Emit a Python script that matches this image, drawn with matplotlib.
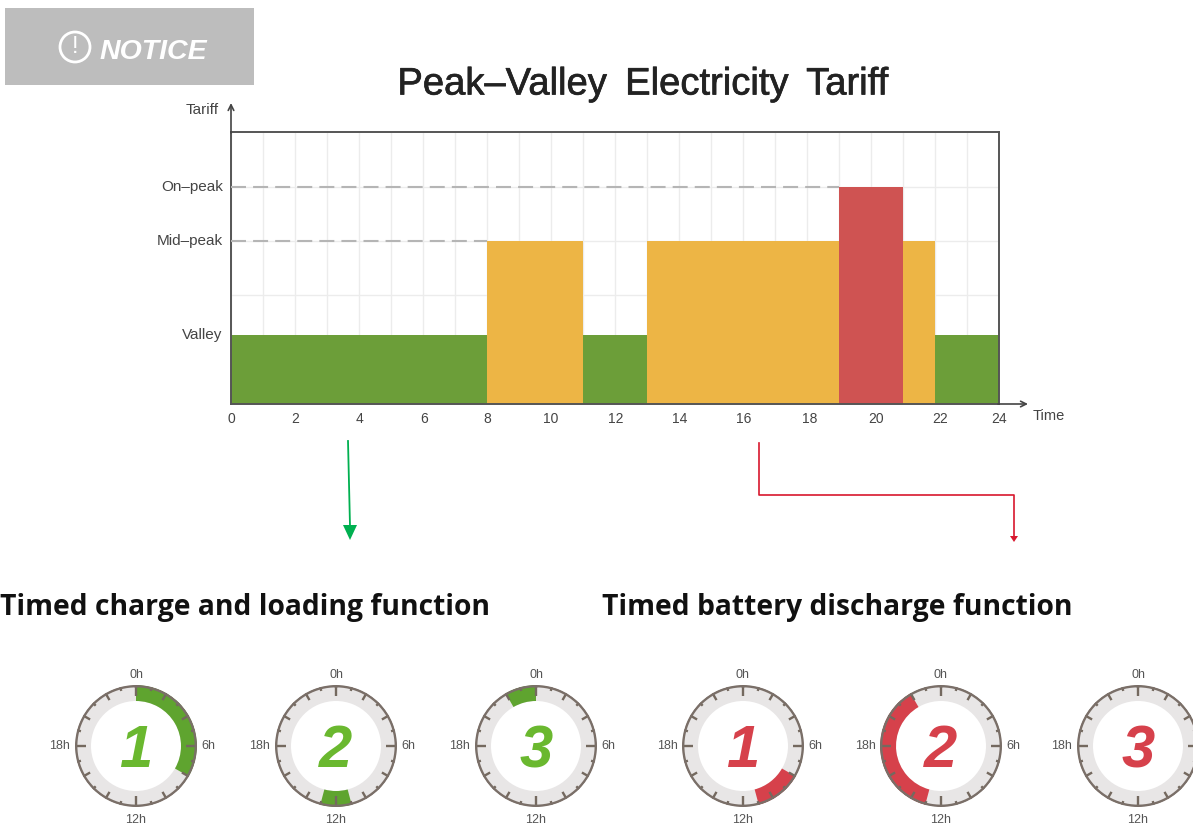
import numpy as np
import matplotlib.pyplot as plt
import matplotlib.patheffects as pe
from matplotlib.patches import Circle, Rectangle
from matplotlib.transforms import ScaledTranslation

W, H = 1193, 826

# tariff bands: start hour, end hour, level
band_start = [0, 8, 11, 13, 19, 21, 22]
band_end = [8, 11, 13, 19, 21, 22, 24]
band_level = ["Valley", "Mid-peak", "Valley", "Mid-peak", "On-peak", "Mid-peak", "Valley"]
level_names = ["Valley", "Mid-peak", "On-peak"]
level_values = [69, 163, 217]
level_labels = ["Valley", "Mid–peak", "On–peak"]
level_colors = {"Valley": "#6c9e39", "Mid-peak": "#edb545", "On-peak": "#cf5352"}
x_ticks = list(range(0, 25, 2))
x_label_nudge = [0, 0, 0, 1, 0, 0, 1, 1, 1, 3, 5, 5, 0]  # labels drift right in the original

# clock windows in hours
charge_windows = [[(0, 8)], [(11, 13)], [(22, 24)]]
discharge_windows = [[(8, 11)], [(13, 22)], []]
charge_x = [136, 336, 536]
discharge_x = [743, 941, 1138]
clock_y = 746
clock_r = 61

fig = plt.figure(figsize=(W / 100, H / 100), dpi=100)
plt.rcParams['font.family'] = ['Liberation Sans', 'DejaVu Sans']

# main tariff chart
ax = fig.add_axes([231 / W, 1 - 404 / H, (999 - 231) / W, (404 - 132) / H])
ax.set_xlim(0, 24)
ax.set_ylim(0, 272)
ax.set_xticks(range(0, 25), minor=True)
ax.set_xticks(x_ticks)
ax.set_xticklabels(x_ticks, fontsize=10, color="#444444")
ax.set_yticks(level_values)
ax.set_yticklabels(level_labels, fontsize=11, color="#444444")
ax.tick_params(axis="both", which="both", length=0)
ax.tick_params(axis="x", pad=5.5)
ax.tick_params(axis="y", pad=6)
for lab, dx in zip(ax.get_xticklabels(), x_label_nudge):
    lab.set_transform(lab.get_transform() + ScaledTranslation(dx / 100, 0, fig.dpi_scale_trans))
for lab in ax.get_yticklabels():
    lab.set_transform(lab.get_transform() + ScaledTranslation(0, 2 / 100, fig.dpi_scale_trans))
ax.grid(True, which="both", axis="x", color="#ececec", lw=1)
ax.set_axisbelow(True)
for y in [109, 163, 217]:
    ax.axhline(y, color="#ececec", lw=1, zorder=0.5)
for s in ax.spines.values():
    s.set_color("#555555")
    s.set_linewidth(1.4)

for s, e, lev in zip(band_start, band_end, band_level):
    val = level_values[level_names.index(lev)]
    ax.bar(s, val, width=e - s, align="edge", color=level_colors[lev], zorder=2)

ax.plot([0, 19], [217, 217], color="#b5b5b5", lw=1.5, dashes=(7.2, 3.4), zorder=3)
ax.plot([0, 8], [163, 163], color="#b5b5b5", lw=1.5, dashes=(7.2, 3.4), zorder=3)

# overlay in pixel coordinates for the notice box, arrows and headings
ov = fig.add_axes([0, 0, 1, 1], facecolor="none")
ov.set_xlim(0, W)
ov.set_ylim(H, 0)
ov.axis("off")

ov.add_patch(Rectangle((5, 8), 249, 77, color="#bdbdbd", lw=0))
ov.add_patch(Circle((75, 47), 15, fill=False, ec="white", lw=2))
ov.text(75, 47, "!", color="white", fontsize=17, ha="center", va="center")
ov.text(100, 52, "NOTICE", color="white", fontsize=20.5, fontweight="bold", fontstyle="italic",
        va="center")

ttl = ov.text(643, 84.5, "Peak–Valley\u2009 Electricity\u2009 Tariff", fontsize=27.5, color="#222222",
              ha="center", va="center")
ttl.set_path_effects([pe.withStroke(linewidth=0.5, foreground="#222222")])
ov.text(219, 110.5, "Tariff", fontsize=11, color="#444444", ha="right", va="center")
ov.text(1033, 416, "Time", fontsize=10.5, color="#444444", ha="left", va="center")

ov.annotate("", xy=(231, 103), xytext=(231, 133),
            arrowprops=dict(arrowstyle="->", color="#444444", lw=1.2, shrinkA=0, shrinkB=0))
ov.annotate("", xy=(1028, 404), xytext=(998, 404),
            arrowprops=dict(arrowstyle="->", color="#444444", lw=1.2, shrinkA=0, shrinkB=0))

ov.plot([348, 350], [441, 526], color="#00b050", lw=1.3)
ov.fill([343, 357, 350], [525, 525, 540], color="#00b050", lw=0)
ov.plot([759, 759, 1014, 1014], [443, 495, 495, 536], color="#d8182e", lw=1.2)
ov.fill([1010, 1018, 1014], [536, 536, 542], color="#d8182e", lw=0)

ov.text(0, 607, "Timed charge and loading function", fontsize=20.3, fontweight="bold",
        family="Open Sans", color="#111111", va="center")
ov.text(602, 607, "Timed battery discharge function", fontsize=20.3, fontweight="bold",
        family="Open Sans", color="#111111", va="center")


def draw_clock(cx, windows, number, color, digit_color):
    a = fig.add_axes([(cx - clock_r) / W, 1 - (clock_y + clock_r) / H,
                      2 * clock_r / W, 2 * clock_r / H], projection="polar")
    a.set_theta_zero_location("N")
    a.set_theta_direction(-1)
    a.set_ylim(0, clock_r)
    a.axis("off")
    a.bar(0, 16, width=2 * np.pi, bottom=45, color="#e8e6e6", lw=0)
    for s, e in windows:
        mid = np.radians((s + e) / 2 * 15)
        a.bar(mid, 16, width=np.radians((e - s) * 15), bottom=45, color=color, lw=0)
    for h in range(24):
        length = 11 if h % 6 == 0 else (8 if h % 2 == 0 else 4)
        t = np.radians(h * 15)
        a.plot([t, t], [clock_r - length, clock_r], color="#74695f", lw=1.7, solid_capstyle="butt")
    a.plot(np.linspace(0, 2 * np.pi, 200), np.full(200, clock_r - 1), color="#7a6f68", lw=2)
    for h, lab, r in [(0, "0h", 71), (6, "6h", 72), (12, "12h", 74), (18, "18h", 76)]:
        if h == 6 and cx + r + 8 > W:  # the last clock runs off the picture, no 6h shown
            continue
        a.text(np.radians(h * 15), r, lab, fontsize=9, color="#555555", ha="center", va="center")
    a.annotate(str(number), xy=(0, 0), xytext=(0, -4), textcoords="offset points",
               fontsize=43, fontweight="bold", fontstyle="italic",
               color=digit_color, ha="center", va="center")


for i, cx in enumerate(charge_x):
    draw_clock(cx, charge_windows[i], i + 1, "#5fa42f", "#6ab82f")
for i, cx in enumerate(discharge_x):
    draw_clock(cx, discharge_windows[i], i + 1, "#d6414b", "#d6414b")

fig.savefig("out.png", dpi=100)
